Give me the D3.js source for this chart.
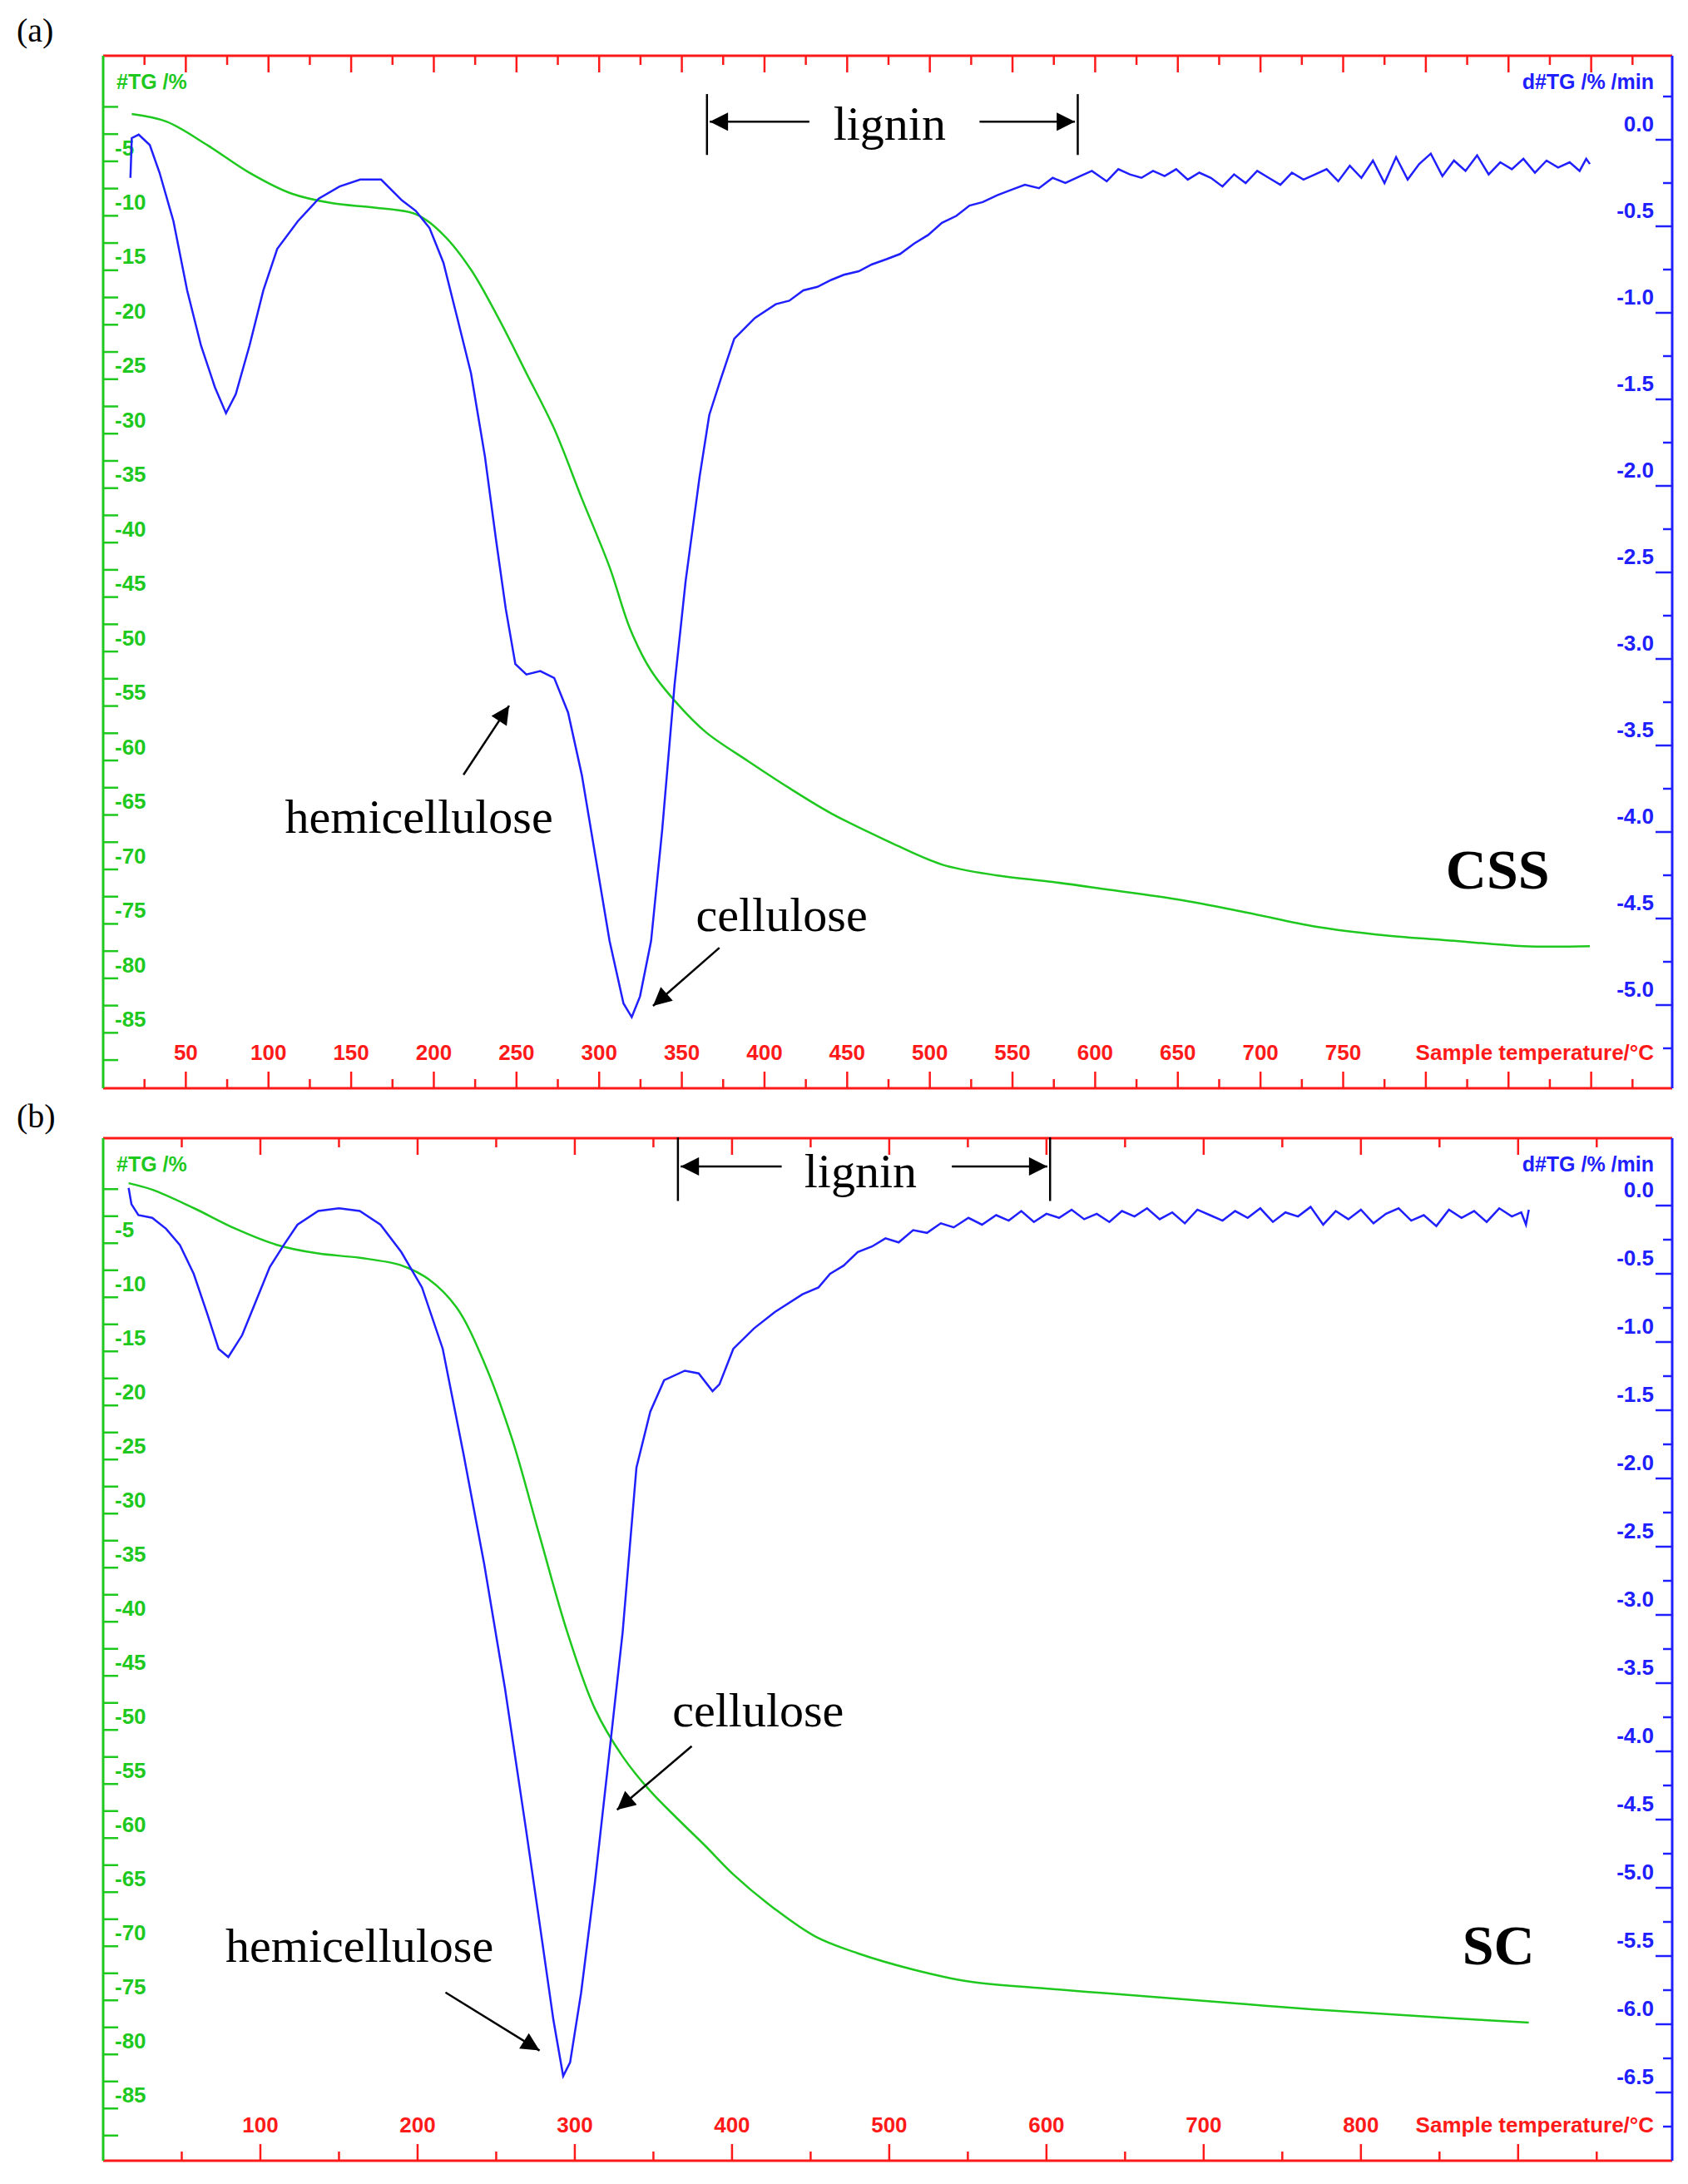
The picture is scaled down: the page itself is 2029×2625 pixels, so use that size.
<!DOCTYPE html>
<html><head><meta charset="utf-8">
<script src="https://cdn.jsdelivr.net/npm/d3@7"></script>
<style>body{margin:0;background:#fff}</style>
</head><body>
<script>
// ---- Data ----
const tgA_T = [17.3,38.3,63.4,88.5,113.7,138.8,163.9,189,205.8,222.5,239.3,256,272.8,289.5,306.3,318.8,331.4,348.2,364.9,390,415.2,440.3,473.8,507.3,540.8,574.3,607.8,649.7,691.5,733.4,775.3,817.2,859,899.2];
const tgA_V = [-1.9,-2.6,-4.8,-7.3,-9.2,-10.1,-10.5,-11.1,-13,-16.2,-20.7,-25.7,-30.8,-37.2,-43.5,-49.2,-53,-56.2,-58.7,-61.3,-63.8,-66.1,-68.6,-70.8,-71.8,-72.4,-73.1,-74,-75.2,-76.5,-77.3,-77.8,-78.3,-78.3];
const dtgA_T = [16.5,17.3,21.5,28.2,34.1,42.5,50.8,59.2,67.6,74.3,80.2,88.5,96.9,105.3,117.8,130.4,143,155.5,168.1,180.7,189,197.4,205.8,214.2,222.5,230.9,237.6,243.5,249.3,256,264.4,272.8,281.2,289.5,297.9,306.3,314.7,319.7,324.7,331.4,338.1,345.6,352.3,360.7,366.6,373.3,381.7,394.2,406.8,415,423.5,432,440.3,448,457,465,473.8,482,490.5,499,507.3,516,524,532,540.8,549,557.5,566,574.3,582,591,598,607,614,621,628,635,642,649,656,663,670,677,684,691,698,705,712,719,726,733,740,747,754,761,768,775,782,789,796,803,810,817,824,831,838,845,852,859,866,873,880,887,893,897,899.2];
const dtgA_V = [-0.22,0.01,0.03,-0.03,-0.19,-0.47,-0.87,-1.19,-1.43,-1.58,-1.47,-1.19,-0.87,-0.63,-0.47,-0.34,-0.27,-0.23,-0.23,-0.35,-0.41,-0.51,-0.71,-1.03,-1.35,-1.83,-2.31,-2.71,-3.03,-3.09,-3.07,-3.11,-3.31,-3.67,-4.15,-4.63,-4.99,-5.07,-4.95,-4.63,-3.99,-3.15,-2.55,-1.95,-1.59,-1.39,-1.15,-1.03,-0.95,-0.93,-0.87,-0.85,-0.81,-0.78,-0.76,-0.72,-0.69,-0.66,-0.60,-0.55,-0.48,-0.44,-0.38,-0.36,-0.32,-0.29,-0.26,-0.28,-0.22,-0.25,-0.21,-0.18,-0.24,-0.17,-0.20,-0.22,-0.18,-0.21,-0.17,-0.23,-0.19,-0.22,-0.27,-0.20,-0.25,-0.18,-0.22,-0.26,-0.19,-0.23,-0.20,-0.17,-0.24,-0.15,-0.22,-0.12,-0.25,-0.10,-0.23,-0.14,-0.08,-0.21,-0.12,-0.18,-0.09,-0.20,-0.13,-0.17,-0.11,-0.19,-0.12,-0.16,-0.13,-0.18,-0.11,-0.14,-0.23];
const tgB_T = [16.2,31.2,57.6,84,110.4,136.8,163.2,189.6,207.2,224.8,242.4,260,277.6,295.2,312.8,330.4,348,365.6,383.2,400.8,427.2,453.6,480,515.2,550.4,594.4,638.4,682.4,726.4,770.4,814.4,858.4,906.8];
const tgB_V = [-0.7,-1.3,-3,-4.9,-6.4,-7.2,-7.6,-8.3,-9.6,-12.2,-17.3,-24.3,-33.3,-42.2,-49.3,-53.7,-56.9,-59.5,-62,-64.6,-67.8,-70.4,-71.9,-73.4,-74.5,-75.1,-75.6,-76.1,-76.6,-77.1,-77.5,-77.9,-78.3];
const dtgB_T = [16.2,18,22.4,31.2,40,48.8,57.6,66.4,73.4,79.6,88.4,97.2,106,114.8,123.6,136.8,150,163.2,176.4,189.6,202.8,216,229.2,242.4,255.6,268.8,277.6,286.4,292.6,297,304,312.8,321.6,330.4,339.2,348,356.8,370,378.8,387.6,392,400.8,414,427.2,444.8,455,462.4,471,480,489,497.6,506,515.2,524,532.8,541,550.4,559,568,576,584,592,600,608,616,624,632,640,648,656,664,672,680,688,696,704,712,720,728,736,744,752,760,768,776,784,792,800,808,816,824,832,840,848,856,864,872,880,888,896,902,905,906.8];
const dtgB_V = [0.13,0.01,-0.07,-0.09,-0.17,-0.29,-0.5,-0.8,-1.05,-1.11,-0.95,-0.7,-0.45,-0.29,-0.14,-0.04,-0.02,-0.04,-0.14,-0.34,-0.6,-1.05,-1.82,-2.63,-3.54,-4.56,-5.26,-5.97,-6.38,-6.28,-5.77,-4.96,-4.05,-3.13,-1.92,-1.51,-1.28,-1.21,-1.23,-1.36,-1.31,-1.05,-0.9,-0.78,-0.65,-0.60,-0.5,-0.44,-0.34,-0.30,-0.24,-0.27,-0.18,-0.20,-0.13,-0.16,-0.09,-0.14,-0.07,-0.11,-0.04,-0.12,-0.06,-0.09,-0.03,-0.10,-0.06,-0.12,-0.04,-0.08,-0.02,-0.10,-0.05,-0.13,-0.03,-0.07,-0.11,-0.04,-0.09,-0.02,-0.12,-0.05,-0.08,-0.01,-0.14,-0.04,-0.10,-0.03,-0.13,-0.06,-0.02,-0.11,-0.07,-0.15,-0.03,-0.09,-0.04,-0.12,-0.02,-0.08,-0.05,-0.14,-0.03,-0.13,-0.06];
const tgTickLabels = [-5,-10,-15,-20,-25,-30,-35,-40,-45,-50,-55,-60,-65,-70,-75,-80,-85];
const dtgLabelsA = [0.0,-0.5,-1.0,-1.5,-2.0,-2.5,-3.0,-3.5,-4.0,-4.5,-5.0];
const dtgLabelsB = [0.0,-0.5,-1.0,-1.5,-2.0,-2.5,-3.0,-3.5,-4.0,-4.5,-5.0,-5.5,-6.0,-6.5];
const xLabelsA = [50,100,150,200,250,300,350,400,450,500,550,600,650,700,750];
const xLabelsB = [100,200,300,400,500,600,700,800];

const W=2029,H=2625, RED="#ff1a1a", GREEN="#1ec81e", BLUE="#2020ff";
const svg=d3.select("body").append("svg").attr("width",W).attr("height",H).style("font-family","'Liberation Sans Narrow','Liberation Sans',Arial,sans-serif");
const defs=svg.append("defs");
defs.append("marker").attr("id","ah").attr("viewBox","0 0 10 10").attr("refX",10).attr("refY",5)
 .attr("markerWidth",26).attr("markerHeight",22).attr("orient","auto").attr("markerUnits","userSpaceOnUse")
 .append("path").attr("d","M0,0L10,5L0,10z").attr("fill","#000");

function panel(o){
  const g=svg.append("g");
  const x=d3.scaleLinear().domain(o.xd).range([o.L,o.R]);
  const yT=d3.scaleLinear().domain([-10,-85]).range(o.yT);
  const yD=d3.scaleLinear().domain([0,o.dMin]).range(o.yD);
  const xt=d3.range(o.xStep,o.xd[1],o.xStep);
  xt.forEach(t=>{const long=(Math.round(t/o.xStep)%2===0);
    const len=long?20:11;
    g.append("line").attr("x1",x(t)).attr("x2",x(t)).attr("y1",o.T).attr("y2",o.T+len).attr("stroke",RED).attr("stroke-width",2.5);
    g.append("line").attr("x1",x(t)).attr("x2",x(t)).attr("y1",o.B).attr("y2",o.B-len).attr("stroke",RED).attr("stroke-width",2.5);});
  d3.range(-1.25,-90,-2.5).forEach(v=>{const y=yT(v); if(y>o.T+40&&y<o.B-10)
    g.append("line").attr("x1",o.L).attr("x2",o.L+18).attr("y1",y).attr("y2",y).attr("stroke",GREEN).attr("stroke-width",2.5);});
  d3.range(0.25,o.dMin-0.3,-0.25).forEach(v=>{const y=yD(v); const mj=Math.abs(v*2-Math.round(v*2))<1e-6;
    if(y>o.T+40&&y<o.B-10) g.append("line").attr("x1",o.R).attr("x2",o.R-(mj?20:11)).attr("y1",y).attr("y2",y).attr("stroke",BLUE).attr("stroke-width",2.5);});
  g.append("line").attr("x1",o.L).attr("x2",o.R).attr("y1",o.T).attr("y2",o.T).attr("stroke",RED).attr("stroke-width",3);
  g.append("line").attr("x1",o.L).attr("x2",o.R).attr("y1",o.B).attr("y2",o.B).attr("stroke",RED).attr("stroke-width",3);
  g.append("line").attr("x1",o.L).attr("x2",o.L).attr("y1",o.T).attr("y2",o.B).attr("stroke",GREEN).attr("stroke-width",3);
  g.append("line").attr("x1",o.R).attr("x2",o.R).attr("y1",o.T).attr("y2",o.B).attr("stroke",BLUE).attr("stroke-width",3);
  const lab=(s)=>s.attr("font-size",26).attr("font-weight","bold").attr("textLength",null);
  tgTickLabels.forEach(v=>lab(g.append("text").attr("x",o.L+14).attr("y",yT(v)+9).attr("fill",GREEN)).text(String(v)));
  o.dl.forEach(v=>lab(g.append("text").attr("x",o.R-22).attr("y",yD(v)-10).attr("text-anchor","end").attr("fill",BLUE)).text(v.toFixed(1)));
  o.xl.forEach(v=>lab(g.append("text").attr("x",x(v)).attr("y",o.B-34).attr("text-anchor","middle").attr("fill",RED)).text(v));
  lab(g.append("text").attr("x",o.R-22).attr("y",o.B-34).attr("text-anchor","end").attr("fill",RED)).text("Sample temperature/°C");
  g.append("text").attr("x",o.L+16).attr("y",o.T+40).attr("fill",GREEN).attr("font-size",25).attr("font-weight","bold").text("#TG /%");
  g.append("text").attr("x",o.R-22).attr("y",o.T+40).attr("text-anchor","end").attr("fill",BLUE).attr("font-size",25).attr("font-weight","bold").text("d#TG /% /min");
  const lt=d3.line().x(d=>x(d[0])).y(d=>yT(d[1])).curve(d3.curveCatmullRom);
  const ld=d3.line().x(d=>x(d[0])).y(d=>yD(d[1])).curve(d3.curveLinear);
  g.append("path").attr("d",lt(d3.zip(o.tT,o.tV))).attr("fill","none").attr("stroke",GREEN).attr("stroke-width",2.5);
  g.append("path").attr("d",ld(d3.zip(o.dT,o.dV))).attr("fill","none").attr("stroke",BLUE).attr("stroke-width",2.5);
  return g;
}
const S=1.663;
panel({L:124,R:2010,T:67,B:1308,xd:[0,949],xStep:25,yT:[243,1225],dMin:-5,yD:[168,1208],dl:dtgLabelsA,xl:xLabelsA,tT:tgA_T,tV:tgA_V,dT:dtgA_T,dV:dtgA_V});
panel({L:124,R:2010,T:1368,B:2597,xd:[0,998],xStep:50,yT:[1543,2518],dMin:-6.5,yD:[1449,2515],dl:dtgLabelsB,xl:xLabelsB,tT:tgB_T,tV:tgB_V,dT:dtgB_T,dV:dtgB_V});

const ann=svg.append("g").style("font-family","'Liberation Serif','Times New Roman',serif");
function txt(x,y,s,size,bold,anchor){ann.append("text").attr("x",x*S).attr("y",y*S).attr("font-size",size).attr("font-weight",bold?"bold":"normal").attr("text-anchor",anchor||"start").text(s);}
function arr(x1,y1,x2,y2){ann.append("line").attr("x1",x1*S).attr("y1",y1*S).attr("x2",x2*S).attr("y2",y2*S).attr("stroke","#000").attr("stroke-width",2.5).attr("marker-end","url(#ah)");}
function vl(x,y1,y2){ann.append("line").attr("x1",x*S).attr("x2",x*S).attr("y1",y1*S).attr("y2",y2*S).attr("stroke","#000").attr("stroke-width",2.5);}
txt(12,30,"(a)",40); txt(12,815,"(b)",40);
vl(511,68,112); vl(779,68,112); arr(585,88,513,88); arr(708,88,777,88); txt(643,101,"lignin",58,false,"middle");
txt(206,602,"hemicellulose",58); arr(335,560,368,510);
txt(503,673,"cellulose",58); arr(520,685,472,727);
txt(1045,642,"CSS",68,true);
vl(490,822,868); vl(759,822,868); arr(565,843,492,843); arr(688,843,757,843); txt(622,858,"lignin",58,false,"middle");
txt(486,1248,"cellulose",58); arr(500,1262,446,1308);
txt(163,1418,"hemicellulose",58); arr(322,1440,390,1482);
txt(1057,1420,"SC",68,true);
</script>
</body></html>
